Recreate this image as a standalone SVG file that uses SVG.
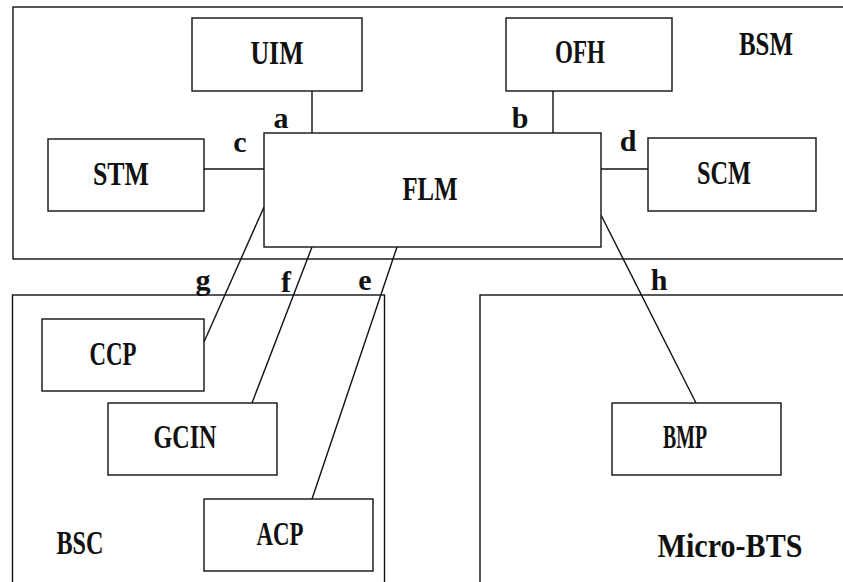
<svg xmlns="http://www.w3.org/2000/svg" width="843" height="582" viewBox="0 0 843 582">
<style>
rect{fill:none;stroke:#111;stroke-width:1.4}
line{stroke:#111;stroke-width:1.4}
.node rect{fill:#fff}
text{font-family:"Liberation Serif","DejaVu Serif",serif;font-weight:bold;fill:#111;text-anchor:middle}
.n{font-size:33px}
.l{font-size:30px}
</style>
<rect width="843" height="582" style="fill:#fff;stroke:none"/>
<g id="BSM"><rect x="13" y="7" width="840" height="252"/><text class="n" x="766" y="55" textLength="54" lengthAdjust="spacingAndGlyphs">BSM</text></g>
<g id="BSC"><rect x="12.5" y="295" width="372" height="300"/><text class="n" x="80" y="554" textLength="47" lengthAdjust="spacingAndGlyphs">BSC</text></g>
<g id="MicroBTS"><rect x="480" y="295" width="380" height="300"/><text class="n" x="730" y="557" textLength="145" lengthAdjust="spacingAndGlyphs">Micro-BTS</text></g>
<g id="connectors">
<line x1="312" y1="91" x2="312" y2="133"/>
<line x1="553" y1="91" x2="553" y2="133"/>
<line x1="204" y1="169" x2="264" y2="169"/>
<line x1="601" y1="169" x2="648" y2="169"/>
<line x1="264" y1="207" x2="204" y2="342"/>
<line x1="312" y1="247" x2="252" y2="403"/>
<line x1="397" y1="247" x2="312" y2="499"/>
<line x1="601" y1="215" x2="696" y2="403"/>
<text class="l" x="281" y="128">a</text>
<text class="l" x="520" y="128">b</text>
<text class="l" x="240" y="152">c</text>
<text class="l" x="628" y="151">d</text>
<text class="l" x="365" y="290">e</text>
<text class="l" x="286" y="292">f</text>
<text class="l" x="203" y="290">g</text>
<text class="l" x="659" y="290">h</text>
</g>
<g id="UIM" class="node"><rect x="192" y="18" width="170" height="73"/><text class="n" x="277" y="64" textLength="53" lengthAdjust="spacingAndGlyphs">UIM</text></g>
<g id="OFH" class="node"><rect x="506" y="18" width="166" height="73"/><text class="n" x="580" y="63" textLength="50" lengthAdjust="spacingAndGlyphs">OFH</text></g>
<g id="STM" class="node"><rect x="48" y="139" width="156" height="72"/><text class="n" x="121" y="185" textLength="56" lengthAdjust="spacingAndGlyphs">STM</text></g>
<g id="SCM" class="node"><rect x="648" y="138" width="168" height="73"/><text class="n" x="724" y="184" textLength="54" lengthAdjust="spacingAndGlyphs">SCM</text></g>
<g id="FLM" class="node"><rect x="264" y="133" width="337" height="114"/><text class="n" x="430" y="200" textLength="55" lengthAdjust="spacingAndGlyphs">FLM</text></g>
<g id="CCP" class="node"><rect x="42" y="319" width="162" height="72"/><text class="n" x="113" y="365" textLength="47" lengthAdjust="spacingAndGlyphs">CCP</text></g>
<g id="GCIN" class="node"><rect x="108" y="403" width="169" height="72"/><text class="n" x="185" y="448" textLength="63" lengthAdjust="spacingAndGlyphs">GCIN</text></g>
<g id="ACP" class="node"><rect x="204" y="499" width="169" height="72"/><text class="n" x="280" y="545" textLength="47" lengthAdjust="spacingAndGlyphs">ACP</text></g>
<g id="BMP" class="node"><rect x="612" y="403" width="169" height="72"/><text class="n" x="685" y="448" textLength="44" lengthAdjust="spacingAndGlyphs">BMP</text></g>
</svg>
